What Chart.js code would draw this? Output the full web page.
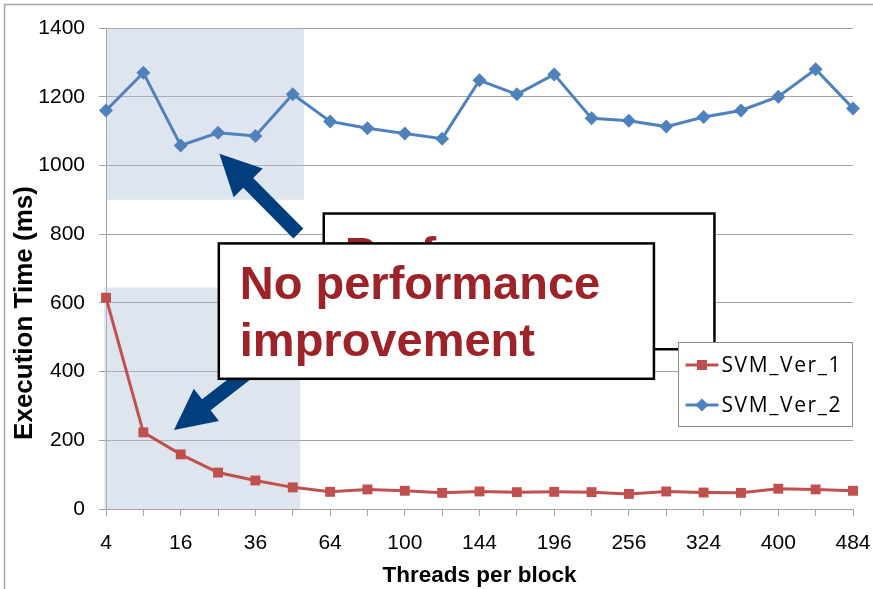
<!DOCTYPE html>
<html>
<head>
<meta charset="utf-8">
<title>Execution Time vs Threads per block</title>
<script src="https://cdn.jsdelivr.net/npm/chart.js@4.4.1/dist/chart.umd.min.js"></script>
<style>
  html, body { margin: 0; padding: 0; background: #ffffff; }
  #wrap { width: 873px; height: 589px; }
</style>
</head>
<body>
<div id="wrap"><canvas id="chart" width="873" height="589"></canvas></div>
<script>
// Threads per block (squares of 2..22)
const threadsPerBlock = [4, 9, 16, 25, 36, 49, 64, 81, 100, 121, 144, 169, 196, 225, 256, 289, 324, 361, 400, 441, 484];

// Execution time in ms
const svmVer1 = [615, 223, 159, 106, 83, 63, 50, 57, 53, 47, 51, 49, 50, 49, 44, 51, 48, 47, 59, 57, 53];
const svmVer2 = [1160, 1270, 1058, 1095, 1086, 1207, 1128, 1108, 1093, 1078, 1248, 1207, 1265, 1137, 1130, 1113, 1141, 1160, 1200, 1280, 1166];

const seriesNames = ['SVM_Ver_1', 'SVM_Ver_2'];
const yMin = 0, yMax = 1400, yStep = 200;

// Highlighted ranges, in (category index, ms) units
const shadedRanges = [
  { x0: 0.03, x1: 5.30, y0: 900, y1: 1400 },
  { x0: -0.05, x1: 5.20, y0: 0, y1: 645 }
];

// Callout arrows, tip and tail in (category index, ms) units
const calloutArrows = [
  { tip: [3.035, 1034], tail: [5.15, 802] },
  { tip: [1.82, 230], tail: [4.58, 463] }
];

// Callout boxes, drawn back to front
const calloutBoxes = [
  { x0: 5.83, x1: 16.29, yTop: 860, yBottom: 465, lines: ['Performance', 'improvement'] },
  { x0: 3.02, x1: 14.67, yTop: 773, yBottom: 379, lines: ['No performance', 'improvement'] }
];

const FONT = "'Liberation Sans', Arial, sans-serif";
const RED = '#C0504D';
const BLUE = '#4F81BD';
const GRID = '#a3a3a3';

function drawArrow(ctx, tx, ty, bx, by, shaft, headW, headL, color) {
  const dx = bx - tx, dy = by - ty;
  const len = Math.hypot(dx, dy);
  const ux = dx / len, uy = dy / len;     // tip -> tail
  const px = -uy, py = ux;                // perpendicular
  const hx = tx + ux * headL, hy = ty + uy * headL;
  ctx.beginPath();
  ctx.moveTo(tx, ty);
  ctx.lineTo(hx + px * headW / 2, hy + py * headW / 2);
  ctx.lineTo(hx + px * shaft / 2, hy + py * shaft / 2);
  ctx.lineTo(bx + px * shaft / 2, by + py * shaft / 2);
  ctx.lineTo(bx - px * shaft / 2, by - py * shaft / 2);
  ctx.lineTo(hx - px * shaft / 2, hy - py * shaft / 2);
  ctx.lineTo(hx - px * headW / 2, hy - py * headW / 2);
  ctx.closePath();
  ctx.fillStyle = color;
  ctx.fill();
}

const decorations = {
  id: 'decorations',
  beforeDraw(chart) {
    const ctx = chart.ctx;
    ctx.save();
    ctx.strokeStyle = '#a8a8a8';
    ctx.lineWidth = 1.5;
    ctx.strokeRect(4.5, 4.5, 1000, 1000);
    ctx.restore();
  },
  beforeDatasetsDraw(chart) {
    const { ctx, scales: { x, y } } = chart;
    ctx.save();
    ctx.fillStyle = 'rgba(175,190,213,0.40)';
    shadedRanges.forEach(r => {
      const l = x.getPixelForValue(r.x0), rr = x.getPixelForValue(r.x1);
      const t = y.getPixelForValue(r.y1), b = y.getPixelForValue(r.y0);
      ctx.fillRect(l, t, rr - l, b - t);
    });
    ctx.restore();
  },
  afterDatasetsDraw(chart) {
    const { ctx, scales: { x, y }, chartArea } = chart;
    ctx.save();
    // arrows
    calloutArrows.forEach(a => {
      drawArrow(ctx,
        x.getPixelForValue(a.tip[0]), y.getPixelForValue(a.tip[1]),
        x.getPixelForValue(a.tail[0]), y.getPixelForValue(a.tail[1]),
        14, 41, 41, '#003e7e');
    });
    // text boxes
    calloutBoxes.forEach(bx => {
      const l = x.getPixelForValue(bx.x0), r = x.getPixelForValue(bx.x1);
      const t = y.getPixelForValue(bx.yTop), b = y.getPixelForValue(bx.yBottom);
      ctx.fillStyle = '#ffffff';
      ctx.fillRect(l, t, r - l, b - t);
      ctx.save();
      ctx.beginPath();
      ctx.rect(l, t, r - l, b - t);
      ctx.clip();
      ctx.fillStyle = '#9e2328';
      ctx.font = 'bold 47px ' + FONT;
      ctx.textAlign = 'left';
      ctx.textBaseline = 'alphabetic';
      bx.lines.forEach((line, i) => ctx.fillText(line, l + 21, t + 56 + i * 56.5));
      ctx.restore();
      ctx.strokeStyle = '#000000';
      ctx.lineWidth = 2.5;
      ctx.strokeRect(l, t, r - l, b - t);
    });
    // legend
    const lgW = 174, lgH = 84;
    const lgR = chartArea.right - 0.5, lgT = chartArea.top + 314.5;
    const lgL = lgR - lgW;
    ctx.fillStyle = '#ffffff';
    ctx.fillRect(lgL, lgT, lgW, lgH);
    ctx.strokeStyle = '#8e8e8e';
    ctx.lineWidth = 1;
    ctx.strokeRect(lgL, lgT, lgW, lgH);
    chart.data.datasets.forEach((ds, i) => {
      const cy = lgT + 22.5 + i * 40;
      ctx.strokeStyle = ds.borderColor;
      ctx.lineWidth = 3;
      ctx.beginPath();
      ctx.moveTo(lgL + 7, cy);
      ctx.lineTo(lgL + 40, cy);
      ctx.stroke();
      ctx.fillStyle = ds.borderColor;
      ctx.beginPath();
      const mx = lgL + 23.5;
      if (ds.pointStyle === 'rect') {
        ctx.rect(mx - 5, cy - 5, 10, 10);
      } else {
        ctx.moveTo(mx - 6.5, cy); ctx.lineTo(mx, cy - 6.5);
        ctx.lineTo(mx + 6.5, cy); ctx.lineTo(mx, cy + 6.5);
        ctx.closePath();
      }
      ctx.fill();
      ctx.fillStyle = '#000000';
      ctx.font = "21px 'Open Sans', 'Noto Sans', sans-serif";
      ctx.letterSpacing = '1.6px';
      ctx.textAlign = 'left';
      ctx.textBaseline = 'middle';
      ctx.fillText(ds.label, lgL + 43, cy + 1);
      ctx.letterSpacing = '0px';
    });
    // y axis title
    ctx.fillStyle = '#000000';
    ctx.font = 'bold 26px ' + FONT;
    ctx.textAlign = 'center';
    ctx.textBaseline = 'alphabetic';
    ctx.translate(32, 313);
    ctx.rotate(-Math.PI / 2);
    ctx.fillText('Execution Time (ms)', 0, 0);
    ctx.restore();
  }
};

new Chart(document.getElementById('chart'), {
  type: 'line',
  data: {
    labels: threadsPerBlock.map(String),
    datasets: [
      {
        label: seriesNames[0], data: svmVer1,
        borderColor: RED, backgroundColor: RED, borderWidth: 3,
        pointStyle: 'rect', pointRadius: 7, pointBorderWidth: 0,
        tension: 0
      },
      {
        label: seriesNames[1], data: svmVer2,
        borderColor: BLUE, backgroundColor: BLUE, borderWidth: 3,
        pointStyle: 'rectRot', pointRadius: 7, pointBorderWidth: 0,
        tension: 0
      }
    ]
  },
  options: {
    responsive: false,
    animation: false,
    devicePixelRatio: 1,
    layout: { padding: { top: 28, right: 0, left: 0, bottom: 0 } },
    plugins: { legend: { display: false }, tooltip: { enabled: false } },
    scales: {
      x: {
        type: 'category',
        offset: false,
        grid: { drawOnChartArea: false, drawTicks: true, tickLength: 7, color: GRID },
        border: { color: GRID },
        ticks: {
          autoSkip: false, maxRotation: 0, color: '#000000', padding: 15,
          font: { family: FONT, size: 21 },
          callback: (v, i) => (i % 2 === 0 ? String(threadsPerBlock[i]) : '')
        },
        title: {
          display: true, text: 'Threads per block', color: '#000000',
          font: { family: FONT, size: 22.5, weight: 'bold' },
          padding: { top: 0, bottom: 0 }
        },
        afterFit: s => { s.height = 80; s.paddingRight = 20; s.paddingLeft = 0; }
      },
      y: {
        min: yMin, max: yMax,
        grid: { color: GRID, tickLength: 7 },
        border: { color: GRID },
        ticks: {
          stepSize: yStep, color: '#000000', padding: 14,
          font: { family: FONT, size: 21 },
          callback: v => String(v)
        },
        afterFit: s => { s.width = 106; }
      }
    }
  },
  plugins: [decorations]
});
</script>
</body>
</html>
